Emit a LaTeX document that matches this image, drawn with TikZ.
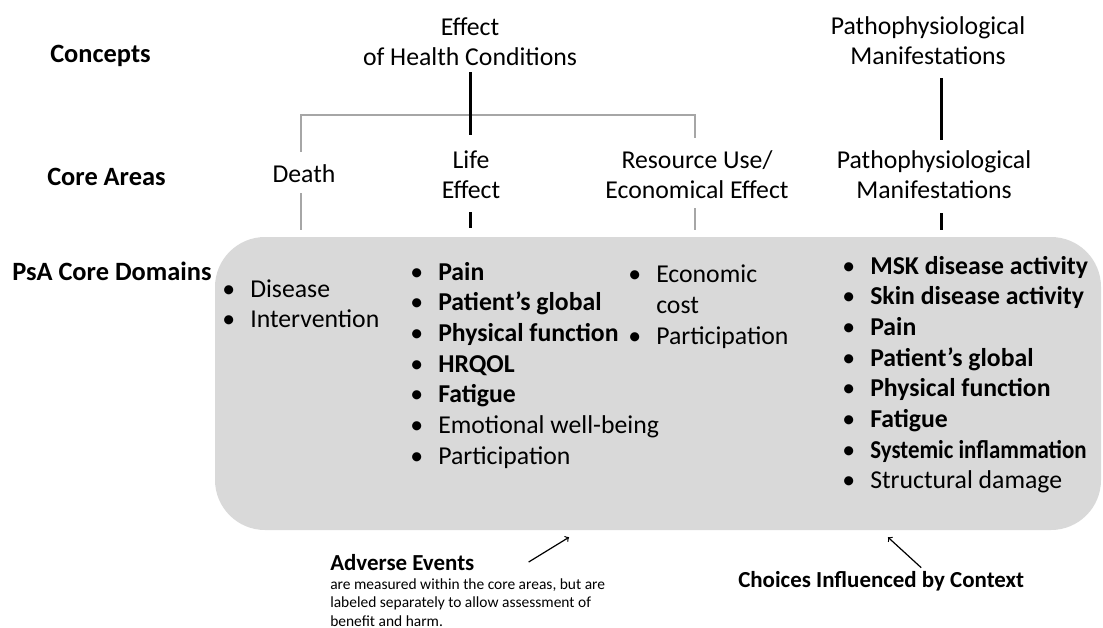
\documentclass[tikz,border=0pt]{standalone}
\usepackage{fontspec}
\setmainfont{Carlito}
\usetikzlibrary{arrows}
\definecolor{boxgray}{HTML}{D9D9D9}
\newcommand{\itm}[1]{\makebox[21pt][l]{\textbullet}#1}
\newcommand{\bigtxt}{\fontsize{19.3}{23}\selectfont}
\newcommand{\headtxt}{\fontsize{19.8}{23}\selectfont}
\newcommand{\midtxt}{\fontsize{17.2}{20}\selectfont}
\newcommand{\smalltxt}{\fontsize{11.6}{13.6}\selectfont}

\begin{document}
\begin{tikzpicture}[x=0.75pt,y=-0.75pt]
	\tikzset{
		txt/.style={inner sep=0pt, font=\bigtxt},
		head/.style={txt, anchor=base west, font=\headtxt\bfseries},
		area/.style={txt, anchor=base, align=center},
		lst/.style={txt, anchor=base west, align=left},
		thk/.style={line width=2.25pt},
		gry/.style={line width=1.1pt, black!35},
		arr/.style={->, line width=0.9pt}
	}
	\useasboundingbox (0,0) rectangle (1103,628);
	% domain box
	\node [fill=boxgray, rounded corners=37.5pt, minimum width=664.5pt, minimum height=219.75pt, inner sep=0pt] (dom) at (658,383.5) {};

	% row headings
	\node [head] (hcon) at (50,62) {Concepts};
	\node [head] (hcore) at (47,185) {Core Areas};
	\node [head] (hdom) at (12,280) {PsA Core Domains};

	% concepts (base = last line)
	\node [area] (eff) at (470,65.7) {Effect\\of Health Conditions};
	\node [area] (patho) at (928,64.7) {Pathophysiological\\Manifestations};

	% core areas
	\node [area] (death) at (304,182) {Death};
	\node [area] (life) at (471,198.7) {Life\\Effect};
	\node [area] (res) at (697,198.7) {Resource Use/\\Economical Effect};
	\node [area] (pathoca) at (934,198.7) {Pathophysiological\\Manifestations};
	\coordinate (junc) at (470,115);

	\draw [gry] ([shift={(-3,-12)}]death.north) |- (junc) -| ([shift={(-2,-12)}]res.north);
	\draw [thk] ([shift={(0,6)}]eff.south) -- ++(0,63);
	\draw [thk] ([shift={(13,13)}]patho.south) -- ([shift={(7,-10)}]pathoca.north);
	\draw [gry] ([shift={(-3,11)}]death.south) -- ++(0,37);
	\draw [thk] ([shift={(-1,13)}]life.south) -- ++(0,16);
	\draw [gry] ([shift={(-2,9)}]res.south) -- ++(0,22);
	\draw [thk] ([shift={(7,14)}]pathoca.south) -- ++(0,17);

	% core domains
	\node [lst] (dom1) at (222,327.7) {\itm{Disease}\\\itm{Intervention}};
	\node [lst] (dom2) at (410,464) {\itm{\textbf{Pain}}\\\itm{\textbf{Patient’s global}}\\\itm{\textbf{Physical function}}\\\itm{\textbf{HRQOL}}\\\itm{\textbf{Fatigue}}\\\itm{Emotional well-being}\\\itm{Participation}};
	\node [lst] (dom3) at (628,344.3) {\itm{Economic}\\\hspace*{21pt}cost\\\itm{Participation}};
	\node [lst] (dom4) at (842,488.7) {\itm{\textbf{MSK disease activity}}\\\itm{\textbf{Skin disease activity}}\\\itm{\textbf{Pain}}\\\itm{\textbf{Patient’s global}}\\\itm{\textbf{Physical function}}\\\itm{\textbf{Fatigue}}\\\itm{\scalebox{0.89}[1]{\textbf{Systemic inflammation}}}\\\itm{Structural damage}};

	% notes below
	\node [inner sep=0pt, anchor=base west, font=\midtxt\bfseries] (adv) at (330,570) {Adverse Events};
	\node [inner sep=0pt, anchor=base west, align=left, font=\smalltxt] (advtxt) at (330,626) {are measured within the core areas, but are\\labeled separately to allow assessment of\\benefit and harm.};
	\node [inner sep=0pt, anchor=base west, font=\midtxt\bfseries] (choice) at (738,587) {Choices Influenced by Context};
	\draw [arr] ([shift={(54,0)}]adv.east) -- ([shift={(-89,7)}]dom.south);
	\draw [arr] ([shift={(40,-3)}]choice.north) -- ([shift={(230,7)}]dom.south);
\end{tikzpicture}
\end{document}
